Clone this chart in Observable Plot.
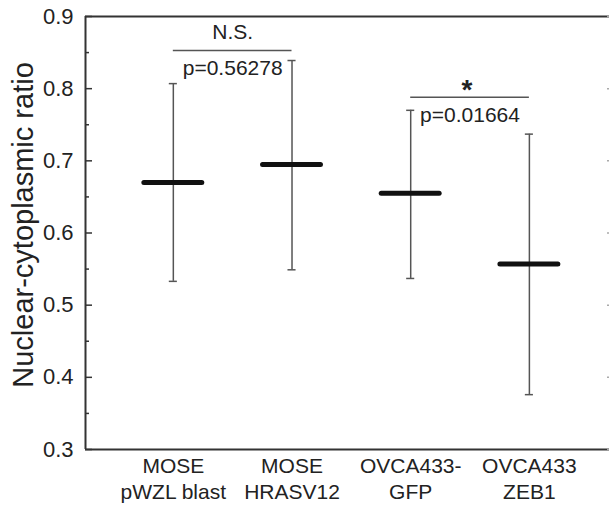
<!DOCTYPE html>
<html>
<head>
<meta charset="utf-8">
<script src="https://cdn.jsdelivr.net/npm/d3@7"></script>
<script src="https://cdn.jsdelivr.net/npm/@observablehq/plot@0.6"></script>
<style>
  html, body { margin: 0; padding: 0; background: white; }
</style>
</head>
<body>
<div id="chart"></div>
<script>
// Data
const categories = ["MOSE\npWZL blast", "MOSE\nHRASV12", "OVCA433-\nGFP", "OVCA433\nZEB1"];
const means = [0.670, 0.695, 0.655, 0.557];
const upper = [0.807, 0.839, 0.770, 0.737];
const lower = [0.533, 0.549, 0.537, 0.376];

const yTicks = [0.3, 0.4, 0.5, 0.6, 0.7, 0.8, 0.9];
const yMinorTicks = [0.35, 0.45, 0.55, 0.65, 0.75, 0.85];

const bracketFrom = [1, 3];
const bracketTo = [2, 4];
const bracketY = [0.853, 0.788];
const bracketLabels = ["N.S.", "*"];
const pLabels = ["p=0.56278", "p=0.01664"];

const rows = categories.map((c, k) => ({i: k + 1, mean: means[k], hi: upper[k], lo: lower[k]}));
const brackets = bracketLabels.map((l, k) => ({from: bracketFrom[k], to: bracketTo[k], y: bracketY[k], label: l, p: pLabels[k]}));

const xDomain = [0.26, 4.675];
const yDomain = [0.3, 0.9];
const capHalf = 0.034;
const meanHalf = 0.244;

const plot = Plot.plot({
  width: 609,
  height: 506,
  marginLeft: 85,
  marginRight: 0,
  marginTop: 16,
  marginBottom: 57,
  x: {domain: xDomain, axis: null},
  y: {domain: yDomain, axis: null},
  style: {fontFamily: "'Liberation Sans', Arial, sans-serif", color: "#222", background: "white", overflow: "visible"},
  marks: [
    // frame lines
    Plot.ruleX([xDomain[0]], {stroke: "#333", strokeWidth: 2}),
    Plot.ruleY([yDomain[0], yDomain[1]], {stroke: "#333", strokeWidth: 2}),
    // y axis major / minor ticks (inward)
    Plot.axisY({ticks: yTicks, tickSize: -7, tickPadding: 19, fontSize: 22, tickFormat: d3.format(".1f"), stroke: "#333", strokeWidth: 1.5, label: null}),
    Plot.axisY({ticks: yMinorTicks, tickSize: -4, tickFormat: () => "", stroke: "#333", strokeWidth: 1.5, label: null}),
    Plot.axisY({anchor: "right", ticks: yTicks, tickSize: -3, tickFormat: () => "", stroke: "#aaa", strokeWidth: 1.5, label: null}),
    // x axis labels
    Plot.axisX({ticks: [1, 2, 3, 4], tickFormat: (i) => categories[i - 1], tickSize: 0, tickPadding: 5, fontSize: 21, lineHeight: 1.24, label: null}),
    // y label
    Plot.text(["Nuclear-cytoplasmic ratio"], {frameAnchor: "left", textAnchor: "middle", rotate: -90, dx: -62, dy: -8, fontSize: 29, fill: "#222"}),
    // error bars
    Plot.ruleX(rows, {x: "i", y1: "lo", y2: "hi", stroke: "#555", strokeWidth: 1.5}),
    Plot.ruleY(rows, {y: "hi", x1: (d) => d.i - capHalf, x2: (d) => d.i + capHalf, stroke: "#555", strokeWidth: 1.5}),
    Plot.ruleY(rows, {y: "lo", x1: (d) => d.i - capHalf, x2: (d) => d.i + capHalf, stroke: "#555", strokeWidth: 1.5}),
    // means
    Plot.ruleY(rows, {y: "mean", x1: (d) => d.i - meanHalf, x2: (d) => d.i + meanHalf, stroke: "#111", strokeWidth: 5, strokeLinecap: "round"}),
    // significance brackets
    Plot.ruleY(brackets, {y: "y", x1: "from", x2: "to", stroke: "#555", strokeWidth: 1.5}),
    Plot.text(brackets.filter((d) => d.label !== "*"), {x: (d) => (d.from + d.to) / 2, y: "y", text: "label", lineAnchor: "bottom", dy: -11, fontSize: 21, fill: "#222"}),
    Plot.text(brackets.filter((d) => d.label === "*"), {x: (d) => (d.from + d.to) / 2, y: "y", text: "label", lineAnchor: "bottom", dy: 2, dx: -3, fontSize: 28, fontWeight: "bold", fill: "#222"}),
    Plot.text(brackets, {x: (d) => (d.from + d.to) / 2, y: "y", text: "p", lineAnchor: "top", dy: 10, fontSize: 21, fill: "#222"})
  ]
});
document.getElementById("chart").appendChild(plot);
</script>
</body>
</html>
